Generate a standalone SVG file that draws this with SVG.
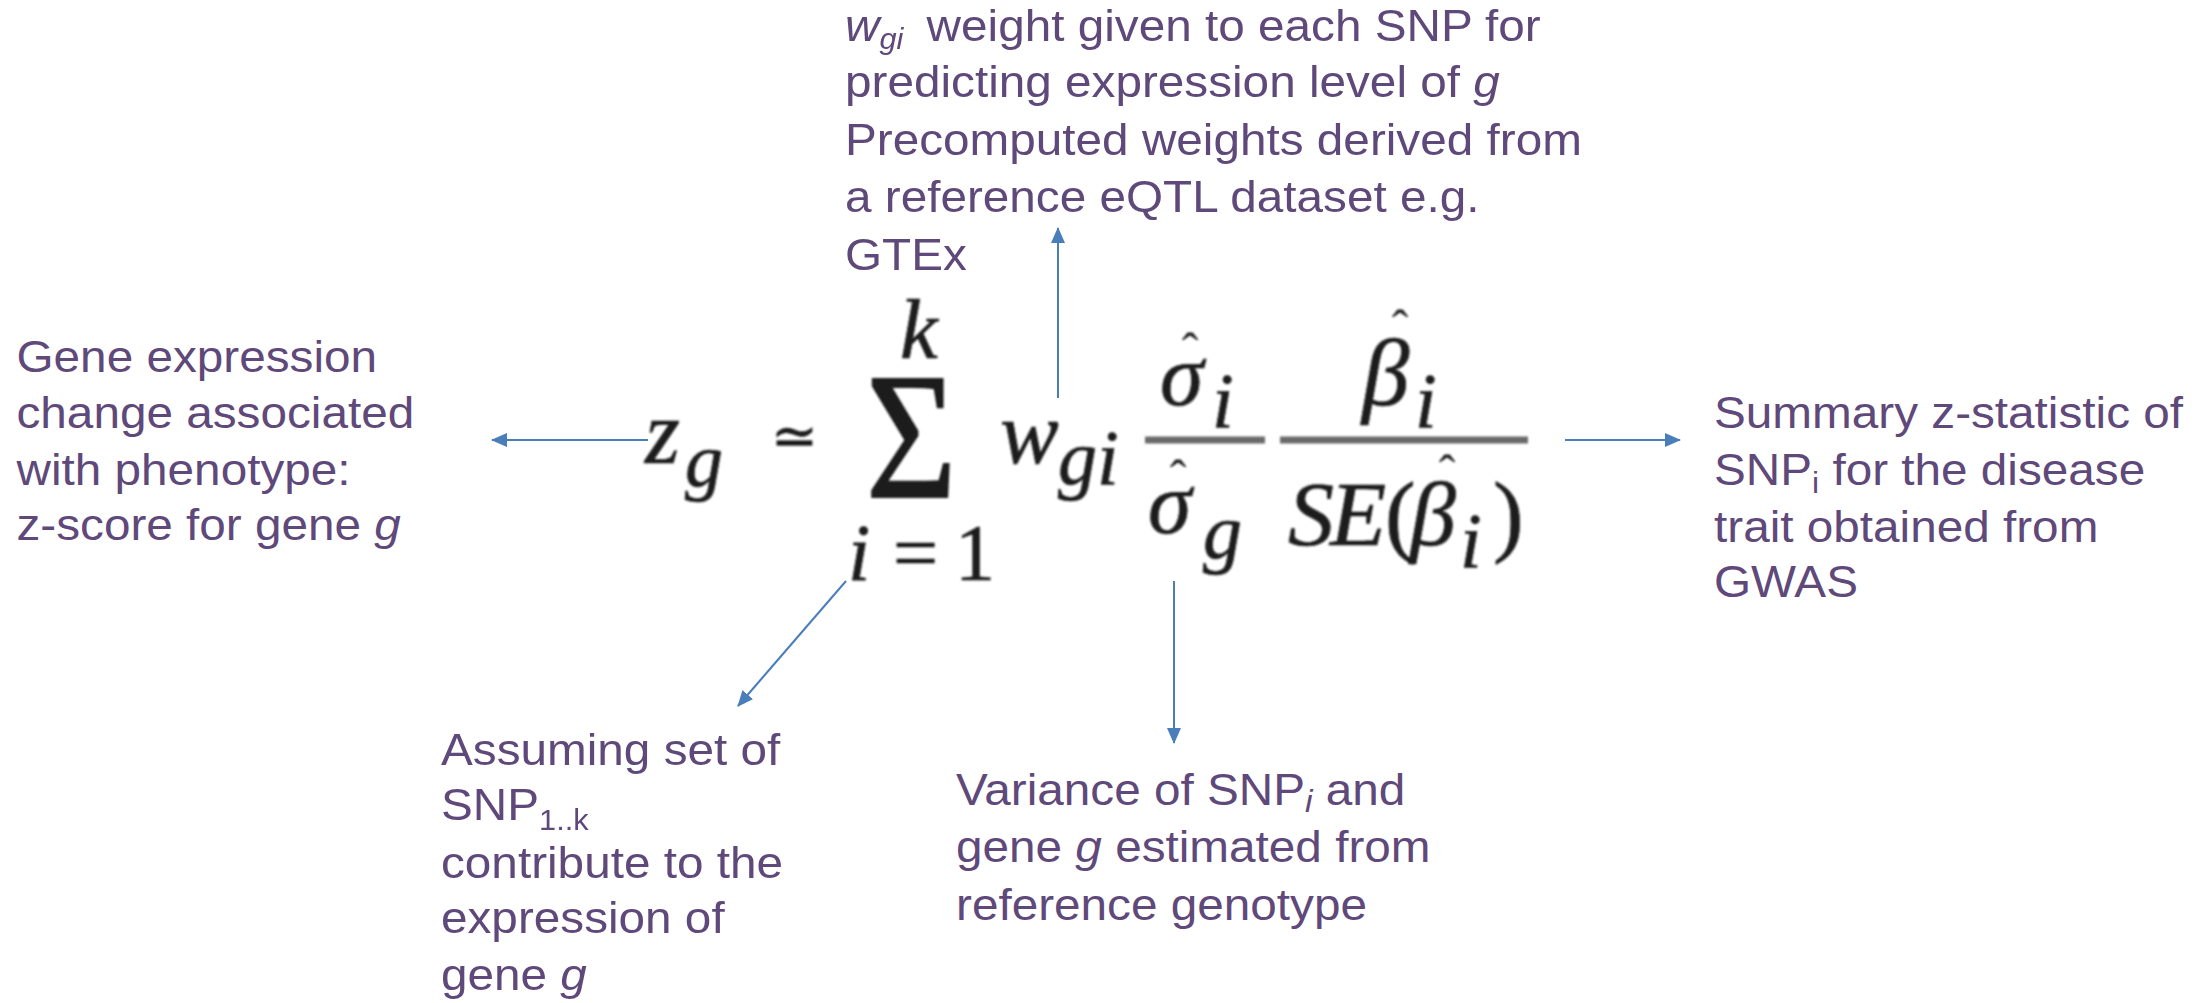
<svg xmlns="http://www.w3.org/2000/svg" width="2203" height="1003" viewBox="0 0 2203 1003">
<style>
.t{font-family:"Liberation Sans",Arial,Helvetica,sans-serif;font-size:45px;fill:#5F497A}
.it{font-style:italic}
.f{font-family:"Liberation Serif","Times New Roman",serif;font-style:italic;fill:#1a1a1a;stroke:#1a1a1a;stroke-width:0.7}
.up{font-style:normal}
.hat{font-family:"Liberation Serif","Times New Roman",serif;font-size:50px;fill:#1a1a1a;text-anchor:middle}
.bar{stroke:#6a6a6a;stroke-width:7}
.conn{stroke:#4A7EBB;stroke-width:2;fill:none;marker-end:url(#arr)}
</style>
<defs>
<marker id="arr" markerUnits="userSpaceOnUse" markerWidth="16" markerHeight="14" refX="15" refY="7" orient="auto">
<path d="M0,0 L16,7 L0,14 z" fill="#4A7EBB"/>
</marker>
<filter id="soft" x="-5%" y="-5%" width="110%" height="110%"><feGaussianBlur stdDeviation="0.9"/></filter>
</defs>
<rect width="2203" height="1003" fill="#ffffff"/>

<g id="formula" filter="url(#soft)">
<text class="f" x="645" y="463" font-size="90">z</text>
<text class="f" x="685" y="486" font-size="76">g</text>
<text class="f up" x="771" y="455" font-size="56" style="font-family:'DejaVu Serif',serif">≃</text>
<text class="f up" transform="translate(866,497) scale(0.86,1)" font-size="181" style="stroke-width:2">Σ</text>
<text class="f" x="900" y="358" font-size="85">k</text>
<text class="f" x="848" y="580" font-size="80">i</text>
<text class="f up" x="893" y="580" font-size="80">=</text>
<text class="f up" x="955" y="580" font-size="80">1</text>
<text class="f" x="1000" y="463" font-size="88">w</text>
<text class="f" x="1058" y="484" font-size="78">gi</text>
<line class="bar" x1="1145" y1="440" x2="1265" y2="440"/>
<text class="f" x="1160" y="405" font-size="88">σ</text>
<text class="hat" x="1190" y="368">ˆ</text>
<text class="f" x="1212" y="427" font-size="78">i</text>
<text class="f" x="1148" y="533" font-size="88">σ</text>
<text class="hat" x="1178" y="495">ˆ</text>
<text class="f" x="1203" y="558" font-size="78">g</text>
<line class="bar" x1="1280" y1="440" x2="1528" y2="440"/>
<text class="f" x="1362" y="405" font-size="95">β</text>
<text class="hat" x="1400" y="345">ˆ</text>
<text class="f" x="1415" y="427" font-size="78">i</text>
<text class="f" x="1288" y="545" font-size="92">S</text>
<text class="f" x="1330" y="545" font-size="92">E</text>
<text class="f up" x="1385" y="545" font-size="92">(</text>
<text class="f" x="1410" y="545" font-size="92">β</text>
<text class="hat" x="1447" y="490">ˆ</text>
<text class="f" x="1460" y="567" font-size="78">i</text>
<text class="f up" x="1493" y="545" font-size="92">)</text>
</g>

<g id="connectors">
<path class="conn" d="M648,440 L492,440"/>
<path class="conn" d="M1058,398 L1058,228"/>
<path class="conn" d="M1565,440 L1680,440"/>
<path class="conn" d="M1174,581 L1174,743"/>
<path class="conn" d="M846,581 L738,706"/>
</g>

<g id="node-zscore" transform="translate(16.5,0) scale(1.06,1)">
<text class="t" x="0" y="372">Gene expression</text>
<text class="t" x="0" y="428">change associated</text>
<text class="t" x="0" y="485">with phenotype:</text>
<text class="t" x="0" y="540">z-score for gene <tspan class="it">g</tspan></text>
</g>

<g id="node-weight" transform="translate(845,0) scale(1.06,1)">
<text class="t" x="0" y="41.5"><tspan class="it">w</tspan><tspan class="it" font-size="29" dy="7.5">gi</tspan><tspan x="77" dy="-7.5">weight given to each SNP for</tspan></text>
<text class="t" x="0" y="97">predicting expression level of <tspan class="it">g</tspan></text>
<text class="t" x="0" y="155">Precomputed weights derived from</text>
<text class="t" x="0" y="212">a reference eQTL dataset e.g.</text>
<text class="t" x="0" y="270">GTEx</text>
</g>

<g id="node-summary" transform="translate(1714,0) scale(1.06,1)">
<text class="t" x="0" y="428">Summary z-statistic of</text>
<text class="t" x="0" y="485">SNP<tspan font-size="30" dy="8">i</tspan><tspan dy="-8"> for the disease</tspan></text>
<text class="t" x="0" y="542">trait obtained from</text>
<text class="t" x="0" y="597">GWAS</text>
</g>

<g id="node-snpset" transform="translate(441,0) scale(1.06,1)">
<text class="t" x="0" y="765">Assuming set of</text>
<text class="t" x="0" y="820">SNP<tspan font-size="29" dy="10">1..k</tspan></text>
<text class="t" x="0" y="878">contribute to the</text>
<text class="t" x="0" y="933">expression of</text>
<text class="t" x="0" y="990">gene <tspan class="it">g</tspan></text>
</g>

<g id="node-variance" transform="translate(956,0) scale(1.06,1)">
<text class="t" x="0" y="805">Variance of SNP<tspan class="it" font-size="32" dy="7">i</tspan><tspan dy="-7"> and</tspan></text>
<text class="t" x="0" y="862">gene <tspan class="it">g</tspan> estimated from</text>
<text class="t" x="0" y="920">reference genotype</text>
</g>
</svg>
